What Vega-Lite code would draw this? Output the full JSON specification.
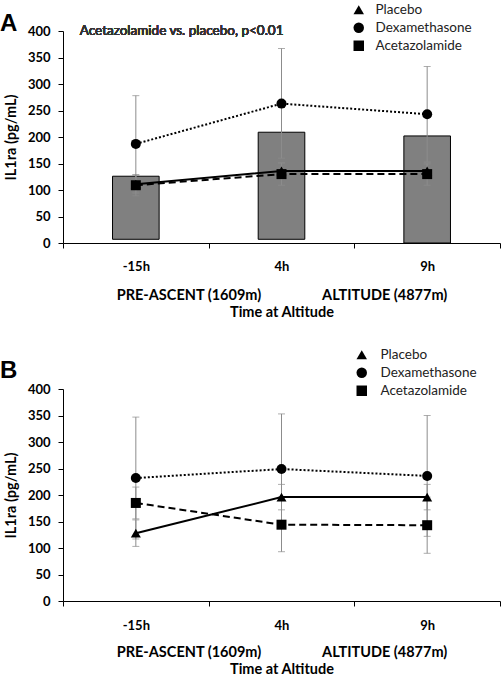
{
  "$schema": "https://vega.github.io/schema/vega-lite/v6.json",
  "background": "white",
  "padding": {"left": 0, "top": 3, "right": 0, "bottom": 0},
  "spacing": 146,
  "bounds": "flush",
  "config": {
    "font": "Lato",
    "view": {"stroke": null},
    "axis": {
      "domainColor": "black", "domainWidth": 1, "tickColor": "black", "tickSize": 5,
      "labelColor": "black", "labelFont": "Lato", "labelFontWeight": "bold", "labelFontSize": 13,
      "titleFont": "Lato", "titleFontWeight": "bold", "titleFontSize": 14.5, "titleColor": "black", "grid": false
    },
    "axisY": {"values": [0, 50, 100, 150, 200, 250, 300, 350, 400], "labelPadding": 8, "titlePadding": 9},
    "legend": {"labelFont": "Lato", "labelFontSize": 13.5, "labelColor": "#222"}
  },
  "datasets": {
    "a": [
      {"time": "-15h", "group": "Placebo", "mean": 111, "lo": 94, "hi": 128},
      {"time": "4h", "group": "Placebo", "mean": 136, "lo": 121, "hi": 151},
      {"time": "9h", "group": "Placebo", "mean": 136, "lo": 123, "hi": 149},
      {"time": "-15h", "group": "Dexamethasone", "mean": 187, "lo": 96, "hi": 278},
      {"time": "4h", "group": "Dexamethasone", "mean": 263, "lo": 160, "hi": 367},
      {"time": "9h", "group": "Dexamethasone", "mean": 243, "lo": 153, "hi": 333},
      {"time": "-15h", "group": "Acetazolamide", "mean": 109, "lo": 89, "hi": 129},
      {"time": "4h", "group": "Acetazolamide", "mean": 130, "lo": 109, "hi": 151},
      {"time": "9h", "group": "Acetazolamide", "mean": 130, "lo": 109, "hi": 151}
    ],
    "barsA": [
      {"time": "-15h", "top": 126, "bottom": 7},
      {"time": "4h", "top": 209, "bottom": 7},
      {"time": "9h", "top": 202, "bottom": 0}
    ],
    "b": [
      {"time": "-15h", "group": "Placebo", "mean": 128, "lo": 103, "hi": 153},
      {"time": "4h", "group": "Placebo", "mean": 196, "lo": 172, "hi": 220},
      {"time": "9h", "group": "Placebo", "mean": 196, "lo": 172, "hi": 220},
      {"time": "-15h", "group": "Dexamethasone", "mean": 232, "lo": 117, "hi": 347},
      {"time": "4h", "group": "Dexamethasone", "mean": 249, "lo": 145, "hi": 353},
      {"time": "9h", "group": "Dexamethasone", "mean": 236, "lo": 122, "hi": 350},
      {"time": "-15h", "group": "Acetazolamide", "mean": 185, "lo": 155, "hi": 215},
      {"time": "4h", "group": "Acetazolamide", "mean": 144, "lo": 93, "hi": 196},
      {"time": "9h", "group": "Acetazolamide", "mean": 143, "lo": 90, "hi": 196}
    ]
  },
  "resolve": {
    "scale": {"shape": "independent", "x": "independent", "y": "independent"},
    "legend": {"shape": "independent"}
  },
  "vconcat": [
    {
      "width": 437, "height": 212,
      "title": {"text": "A", "anchor": "start", "frame": "group", "dx": -63, "dy": 31, "fontSize": 24, "font": "Liberation Sans", "fontWeight": "bold", "color": "black", "offset": -21, "baseline": "alphabetic"},
      "data": {"name": "a"},
      "layer": [
        {
          "data": {"name": "barsA"},
          "mark": {"type": "bar", "fill": "#808080", "stroke": "black", "strokeWidth": 1, "width": {"band": 0.32}},
          "encoding": {
            "x": {"field": "time", "type": "ordinal", "sort": ["-15h", "4h", "9h"], "scale": {"type": "band", "paddingInner": 0, "paddingOuter": 0},
              "axis": {"title": ["PRE-ASCENT (1609m)\u2003\u2003\u2003\u2003\u2003\u00a0\u00a0ALTITUDE (4877m)", "Time at Altitude"], "tickBand": "extent", "labelAngle": 0, "labelPadding": 12, "titlePadding": 15, "titleLineHeight": 17}},
            "y": {"field": "top", "type": "quantitative", "scale": {"domain": [0, 400]}, "title": "IL1ra (pg/mL)"},
            "y2": {"field": "bottom"}
          }
        },
        {
          "mark": {"type": "errorbar", "ticks": {"size": 7, "thickness": 1, "color": "#8c8c8c"}, "rule": {"color": "#8c8c8c", "strokeWidth": 1}},
          "encoding": {
            "x": {"field": "time", "type": "ordinal", "sort": ["-15h", "4h", "9h"]},
            "y": {"field": "lo", "type": "quantitative", "scale": {"domain": [0, 400]}, "title": "IL1ra (pg/mL)"},
            "y2": {"field": "hi"},
            "detail": {"field": "group"}
          }
        },
        {
          "transform": [{"filter": "datum.group == 'Placebo'"}],
          "mark": {"type": "line", "color": "black", "strokeWidth": 2},
          "encoding": {
            "x": {"field": "time", "type": "ordinal", "sort": ["-15h", "4h", "9h"]},
            "y": {"field": "mean", "type": "quantitative", "title": "IL1ra (pg/mL)"}
          }
        },
        {
          "transform": [{"filter": "datum.group == 'Dexamethasone'"}],
          "mark": {"type": "line", "color": "black", "strokeWidth": 2, "strokeDash": [2, 2]},
          "encoding": {
            "x": {"field": "time", "type": "ordinal", "sort": ["-15h", "4h", "9h"]},
            "y": {"field": "mean", "type": "quantitative", "title": "IL1ra (pg/mL)"}
          }
        },
        {
          "transform": [{"filter": "datum.group == 'Acetazolamide'"}],
          "mark": {"type": "line", "color": "black", "strokeWidth": 2, "strokeDash": [7, 4]},
          "encoding": {
            "x": {"field": "time", "type": "ordinal", "sort": ["-15h", "4h", "9h"]},
            "y": {"field": "mean", "type": "quantitative", "title": "IL1ra (pg/mL)"}
          }
        },
        {
          "mark": {"type": "point", "filled": true, "color": "black", "opacity": 1, "size": 100},
          "encoding": {
            "x": {"field": "time", "type": "ordinal", "sort": ["-15h", "4h", "9h"]},
            "y": {"field": "mean", "type": "quantitative", "title": "IL1ra (pg/mL)"},
            "shape": {"field": "group", "type": "nominal", "scale": {"domain": ["Placebo", "Dexamethasone", "Acetazolamide"], "range": ["triangle-up", "circle", "square"]},
              "legend": {"orient": "none", "legendX": 289, "legendY": -28, "title": null, "symbolFillColor": "black", "symbolStrokeColor": "black", "symbolSize": 110, "rowPadding": 1, "labelOffset": 10}}
          }
        },
        {
          "mark": {"type": "text", "align": "left", "baseline": "middle", "fontSize": 13.5, "fontWeight": "normal", "font": "Lato", "color": "#333", "dx": -56, "text": "Acetazolamide vs. placebo, p<0.01"},
          "encoding": {
            "x": {"datum": "-15h", "type": "ordinal"},
            "y": {"datum": 400, "type": "quantitative"}
          }
        }
      ]
    },
    {
      "width": 437, "height": 212,
      "title": {"text": "B", "anchor": "start", "frame": "group", "dx": -63, "dy": 33, "fontSize": 24, "font": "Liberation Sans", "fontWeight": "bold", "color": "black", "offset": -21, "baseline": "alphabetic"},
      "data": {"name": "b"},
      "layer": [
        {
          "mark": {"type": "errorbar", "ticks": {"size": 7, "thickness": 1, "color": "#8c8c8c"}, "rule": {"color": "#8c8c8c", "strokeWidth": 1}},
          "encoding": {
            "x": {"field": "time", "type": "ordinal", "sort": ["-15h", "4h", "9h"], "scale": {"type": "band", "paddingInner": 0, "paddingOuter": 0},
              "axis": {"title": ["PRE-ASCENT (1609m)\u2003\u2003\u2003\u2003\u2003\u00a0\u00a0ALTITUDE (4877m)", "Time at Altitude"], "tickBand": "extent", "labelAngle": 0, "labelPadding": 13, "titlePadding": 13, "titleLineHeight": 17}},
            "y": {"field": "lo", "type": "quantitative", "scale": {"domain": [0, 400]}, "title": "IL1ra (pg/mL)"},
            "y2": {"field": "hi"},
            "detail": {"field": "group"}
          }
        },
        {
          "transform": [{"filter": "datum.group == 'Placebo'"}],
          "mark": {"type": "line", "color": "black", "strokeWidth": 2},
          "encoding": {
            "x": {"field": "time", "type": "ordinal", "sort": ["-15h", "4h", "9h"]},
            "y": {"field": "mean", "type": "quantitative", "title": "IL1ra (pg/mL)"}
          }
        },
        {
          "transform": [{"filter": "datum.group == 'Dexamethasone'"}],
          "mark": {"type": "line", "color": "black", "strokeWidth": 2, "strokeDash": [2, 2]},
          "encoding": {
            "x": {"field": "time", "type": "ordinal", "sort": ["-15h", "4h", "9h"]},
            "y": {"field": "mean", "type": "quantitative", "title": "IL1ra (pg/mL)"}
          }
        },
        {
          "transform": [{"filter": "datum.group == 'Acetazolamide'"}],
          "mark": {"type": "line", "color": "black", "strokeWidth": 2, "strokeDash": [7, 4]},
          "encoding": {
            "x": {"field": "time", "type": "ordinal", "sort": ["-15h", "4h", "9h"]},
            "y": {"field": "mean", "type": "quantitative", "title": "IL1ra (pg/mL)"}
          }
        },
        {
          "mark": {"type": "point", "filled": true, "color": "black", "opacity": 1, "size": 100},
          "encoding": {
            "x": {"field": "time", "type": "ordinal", "sort": ["-15h", "4h", "9h"]},
            "y": {"field": "mean", "type": "quantitative", "title": "IL1ra (pg/mL)"},
            "shape": {"field": "group", "type": "nominal", "scale": {"domain": ["Placebo", "Dexamethasone", "Acetazolamide"], "range": ["triangle-up", "circle", "square"]},
              "legend": {"orient": "none", "legendX": 292, "legendY": -41, "title": null, "symbolFillColor": "black", "symbolStrokeColor": "black", "symbolSize": 110, "rowPadding": 1, "labelOffset": 12}}
          }
        }
      ]
    }
  ]
}
